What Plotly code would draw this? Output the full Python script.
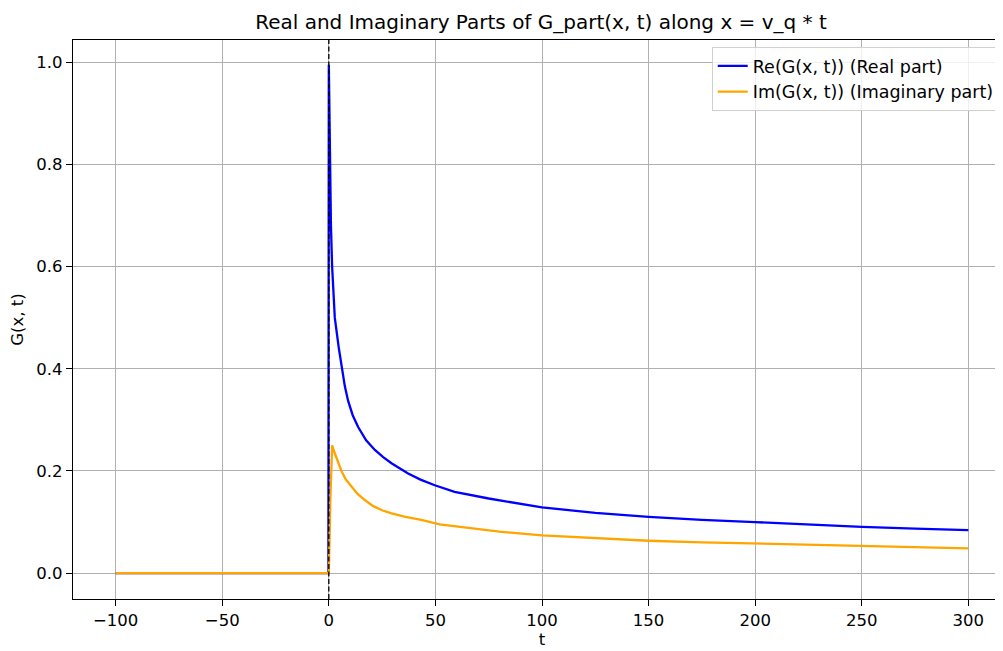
import plotly.graph_objects as go

# Real part samples
t_re = [-100, -0.2, 0, 0.3, 0.6, 1.0, 1.55, 2.8, 4.7, 6.25, 7.5, 9.06, 11.2, 13.75, 17.5,
        21.6, 25.5, 29.4, 37.2, 43, 49.7, 59, 75, 100, 125, 150, 175, 200, 225, 250, 275, 300]
g_re = [0, 0, 0.995, 0.85, 0.75, 0.68, 0.60, 0.50, 0.44, 0.395, 0.366, 0.337, 0.309, 0.286,
        0.260, 0.241, 0.227, 0.215, 0.195, 0.183, 0.172, 0.159, 0.146, 0.1285, 0.118, 0.110,
        0.104, 0.0998, 0.095, 0.0906, 0.087, 0.0841]

# Imaginary part samples
t_im = [-100, 0, 0.7, 1.56, 2.5, 3.6, 4.7, 5.9, 8.0, 10.6, 13.5, 16.9, 20.8, 25, 29.4,
        36, 43.4, 52, 65, 80, 100, 125, 150, 175, 200, 225, 250, 275, 300]
g_im = [0, 0, 0.14, 0.25, 0.238, 0.225, 0.212, 0.200, 0.183, 0.169, 0.155, 0.143, 0.131,
        0.123, 0.117, 0.110, 0.104, 0.0953, 0.088, 0.081, 0.0737, 0.068, 0.0633,
        0.0603, 0.0578, 0.0552, 0.0528, 0.0505, 0.0483]

x_ticks = [-100, -50, 0, 50, 100, 150, 200, 250, 300]
y_ticks = [0.0, 0.2, 0.4, 0.6, 0.8, 1.0]

FONT = "DejaVu Sans"
FS = 16.5

fig = go.Figure()
fig.add_trace(go.Scatter(x=t_re, y=g_re, mode="lines", name="Re(G(x, t)) (Real part)",
                         line=dict(color="blue", width=2.3)))
fig.add_trace(go.Scatter(x=t_im, y=g_im, mode="lines", name="Im(G(x, t)) (Imaginary part)",
                         line=dict(color="orange", width=2.3)))

fig.add_shape(type="line", xref="x", yref="paper", x0=0, x1=0, y0=0, y1=1,
              line=dict(color="black", width=1.3, dash="5px,2.5px"), layer="above")

fig.update_layout(
    width=1003, height=651,
    margin=dict(l=65, r=0, t=32, b=60),
    paper_bgcolor="white", plot_bgcolor="white",
    font=dict(family=FONT, size=FS, color="black"),
    title=dict(text="Real and Imaginary Parts of G_part(x, t) along x = v_q * t",
               font=dict(family=FONT, size=20, color="black"),
               x=533 / 1003, xanchor="center", xref="container",
               y=1 - 14 / 651, yanchor="middle", yref="container"),
    showlegend=True,
    legend=dict(x=0.988, xanchor="right", y=0.9875, yanchor="top",
                bgcolor="rgba(255,255,255,0.8)", bordercolor="#d0d0d0", borderwidth=1,
                font=dict(family=FONT, size=17.5, color="black"),
                tracegroupgap=0, itemwidth=30),
)

fig.update_xaxes(range=[-120, 320], tickvals=x_ticks,
                 ticktext=[("\u2212" + str(-v)) if v < 0 else str(v) for v in x_ticks],
                 showgrid=True, gridcolor="#b0b0b0", gridwidth=1.2, zeroline=False,
                 showline=True, linecolor="black", linewidth=1.2, mirror=True,
                 ticks="outside", ticklen=6, tickcolor="black", tickwidth=1.2,
                 title=dict(text="t", font=dict(family=FONT, size=FS), standoff=4))
fig.update_yaxes(range=[-0.0507, 1.0434], tickvals=y_ticks,
                 ticktext=[f"{v:.1f}" for v in y_ticks],
                 showgrid=True, gridcolor="#b0b0b0", gridwidth=1.2, zeroline=False,
                 showline=True, linecolor="black", linewidth=1.2,
                 ticks="outside", ticklen=6, tickcolor="black", tickwidth=1.2,
                 title=dict(text="G(x, t)", font=dict(family=FONT, size=FS), standoff=9))

fig.write_html("out.html")
